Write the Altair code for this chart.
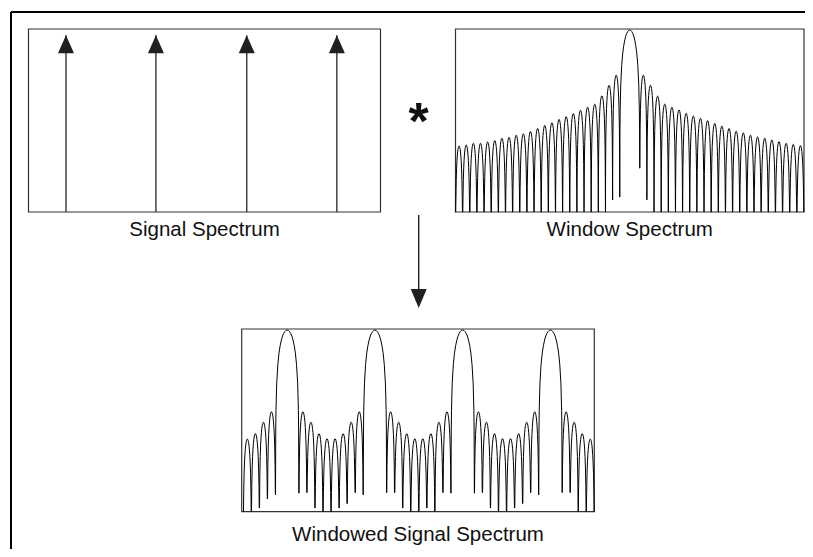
import altair as alt
import pandas as pd

# ---------------- data ----------------
FLOOR_DB = -54.0          # bottom of the dB panels
TOP_DB = 0.3              # top of the dB panels

# Signal spectrum: four pure tones (arbitrary frequency units 0..100)
SIGNAL_EXTENT = [0.0, 100.0]
SIGNAL_TONES = [10.65, 36.2, 62.0, 87.6]
SIGNAL_AMPS = [1.0, 1.0, 1.0, 1.0]
SIGNAL_TOP = 1.035

# Window spectrum (x in frequency bins, y in dB)
WINDOW_EXTENT = [-24.4, 24.4]
WINDOW_LOBE_WIDTHS = [1.0] * 23 + [2.8] + [1.0] * 23
WINDOW_PEAKS_DB = [
    -34.4, -34.1, -33.6, -33.6, -33.2, -32.8, -32.1, -31.8, -31.2, -30.8, -30.1, -29.2,
    -28.3, -27.5, -26.5, -25.7, -24.8, -23.8, -22.9, -22.0, -19.5, -16.4, -13.4,
    0.0,
    -13.4, -16.4, -19.6, -22.0, -22.9, -23.7, -24.7, -25.5, -26.2, -26.9, -27.7, -28.5,
    -29.2, -30.0, -30.5, -31.2, -31.7, -32.1, -32.6, -33.1, -33.6, -33.9, -34.3,
]
F = FLOOR_DB
WINDOW_NULLS_DB = (
    [F] * 22 + [-50.4, -49.6, -41.0, -50.4] + [F] * 22
)

# Windowed signal spectrum (x in bins, y in dB)
BOTTOM_EXTENT = [-0.2, 43.6]
BOTTOM_LOBE_WIDTHS = (
    [1.0, 1.0, 1.0, 1.0, 2.9]
    + [1.0, 1.0, 1.0, 1.0, 1.0, 1.0, 1.0, 1.0, 2.9]
    + [1.0, 1.0, 1.0, 1.0, 1.0, 1.0, 1.0, 1.0, 2.9]
    + [1.0, 1.0, 1.0, 1.0, 1.0, 1.0, 1.0, 1.0, 2.9]
    + [1.0, 1.0, 1.0, 1.0]
)
BOTTOM_PEAKS_DB = (
    [-32.4, -30.8, -27.4, -24.3, 0.0]
    + [-24.3, -27.4, -30.8, -32.3, -32.3, -30.8, -27.4, -24.3, 0.0]
    + [-24.3, -27.4, -30.8, -32.3, -32.3, -30.8, -27.4, -24.3, 0.0]
    + [-24.3, -27.4, -30.8, -32.3, -32.3, -30.8, -27.4, -24.3, 0.0]
    + [-24.3, -27.4, -30.8, -32.4]
)
BOTTOM_NULLS_DB = (
    [F, F, -52.9, -50.2, -49.0]
    + [-48.5, -48.3, -52.9, F, F, -52.9, -51.6, -48.3, -49.0]
    + [-48.3, -48.3, -52.9, F, F, -52.9, F, -48.3, -48.5]
    + [-48.5, -48.3, -52.9, F, F, -52.9, -51.6, -48.3, -49.0]
    + [-48.3, -48.3, F, F, F]
)

# shape of one lobe (fraction across lobe -> dB below its peak), read from the arches
PROFILE_U = [0.0, 0.01, 0.02, 0.05, 0.1, 0.15, 0.2, 0.25, 0.3, 0.35, 0.4, 0.45, 0.5,
             0.55, 0.6, 0.65, 0.7, 0.75, 0.8, 0.85, 0.9, 0.95, 0.98, 0.99, 1.0]
PROFILE_DROP_DB = [None, -30, -24, -16, -10.2, -6.8, -4.6, -3.0, -1.8, -1.0, -0.45, -0.1, 0.0,
                   -0.1, -0.45, -1.0, -1.8, -3.0, -4.6, -6.8, -10.2, -16, -24, -30, None]

LABELS = ["Signal Spectrum", "Window Spectrum", "Windowed Signal Spectrum"]

# ---------------- layout (plot-area pixels, origin at page (11, 12)) ----------------
W, H = 794, 537
SIG_X = [17.5, 369.5]
WIN_X = [444.5, 793.0]
BOT_X = [230.7, 583.3]
TOP_Y = [200, 17]
BOT_Y = [499.7, 317]

INK = "#111111"
BOX = "#333333"
FONT = "Liberation Sans"


def lobe_curve(start, widths, peaks, nulls):
    rows = []
    x0 = start
    idx = 0
    for i, (w, p) in enumerate(zip(widths, peaks)):
        dl, dr = nulls[i], nulls[i + 1]
        for j, (u, d) in enumerate(zip(PROFILE_U[:-1], PROFILE_DROP_DB[:-1])):
            if j == 0:
                lvl = dl
            else:
                lvl = max(p + d, dl if u < 0.5 else dr, FLOOR_DB)
            rows.append({"x": x0 + u * w, "y": lvl, "i": idx})
            idx += 1
        x0 += w
    rows.append({"x": x0, "y": nulls[-1], "i": idx})
    return pd.DataFrame(rows)


def sx(ext, rng):
    return alt.Scale(domain=ext, range=rng, nice=False, zero=False)


def box_layer(ext, xr, ymin, ymax, yr):
    df = pd.DataFrame({"x": [ext[0]], "x2": [ext[1]], "y": [ymin], "y2": [ymax]})
    return alt.Chart(df).mark_rect(fillOpacity=0, stroke=BOX, strokeWidth=1.2).encode(
        x=alt.X("x:Q", scale=sx(ext, xr), axis=None),
        x2="x2:Q",
        y=alt.Y("y:Q", scale=sx([ymin, ymax], yr), axis=None),
        y2="y2:Q",
    )


def label_layer(text, ext, xr, ymin, ymax, yr, dy):
    df = pd.DataFrame({"x": [(ext[0] + ext[1]) / 2], "y": [ymin], "t": [text]})
    return alt.Chart(df).mark_text(
        font=FONT, fontSize=20.5, color=INK, baseline="alphabetic", align="center", dy=dy
    ).encode(
        x=alt.X("x:Q", scale=sx(ext, xr), axis=None),
        y=alt.Y("y:Q", scale=sx([ymin, ymax], yr), axis=None),
        text="t:N",
    )


def curve_layer(df, ext, xr, yr):
    return alt.Chart(df).mark_line(color="black", strokeWidth=1.0).encode(
        x=alt.X("x:Q", scale=sx(ext, xr), axis=None),
        y=alt.Y("y:Q", scale=sx([FLOOR_DB, TOP_DB], yr), axis=None),
        order="i:Q",
    )


# ---- signal panel ----
sig_df = pd.DataFrame({"f": SIGNAL_TONES, "a": SIGNAL_AMPS, "z": [0.0] * len(SIGNAL_TONES)})
sig_shafts = alt.Chart(sig_df).mark_rule(color="#333333", strokeWidth=1.4).encode(
    x=alt.X("f:Q", scale=sx(SIGNAL_EXTENT, SIG_X), axis=None),
    y=alt.Y("z:Q", scale=sx([0, SIGNAL_TOP], TOP_Y), axis=None),
    y2="a:Q",
)
sig_heads = alt.Chart(sig_df).mark_point(
    shape="M0,-1.125L1,1.125L-1,1.125Z", size=256, filled=True, fill="#231f20",
    stroke=None, opacity=1, yOffset=9,
).encode(
    x=alt.X("f:Q", scale=sx(SIGNAL_EXTENT, SIG_X), axis=None),
    y=alt.Y("a:Q", scale=sx([0, SIGNAL_TOP], TOP_Y), axis=None),
)
sig_box = box_layer(SIGNAL_EXTENT, SIG_X, 0, SIGNAL_TOP, TOP_Y)
sig_label = label_layer(LABELS[0], SIGNAL_EXTENT, SIG_X, 0, SIGNAL_TOP, TOP_Y, 24)

# ---- window panel ----
win_df = lobe_curve(WINDOW_EXTENT[0], WINDOW_LOBE_WIDTHS, WINDOW_PEAKS_DB, WINDOW_NULLS_DB)
win_curve = curve_layer(win_df, WINDOW_EXTENT, WIN_X, TOP_Y)
win_box = box_layer(WINDOW_EXTENT, WIN_X, FLOOR_DB, TOP_DB, TOP_Y)
win_label = label_layer(LABELS[1], WINDOW_EXTENT, WIN_X, FLOOR_DB, TOP_DB, TOP_Y, 24)

# ---- windowed signal panel ----
bot_df = lobe_curve(0.0, BOTTOM_LOBE_WIDTHS, BOTTOM_PEAKS_DB, BOTTOM_NULLS_DB)
bot_curve = curve_layer(bot_df, BOTTOM_EXTENT, BOT_X, BOT_Y)
bot_box = box_layer(BOTTOM_EXTENT, BOT_X, FLOOR_DB, TOP_DB, BOT_Y)
bot_label = label_layer(LABELS[2], BOTTOM_EXTENT, BOT_X, FLOOR_DB, TOP_DB, BOT_Y, 29)

# ---- outer frame and connectors (layout units = plot pixels) ----
LAY_X = alt.Scale(domain=[0, W], range=[0, W], nice=False, zero=False)
LAY_Y = alt.Scale(domain=[0, H], range=[0, H], nice=False, zero=False)

frame_df = pd.DataFrame({"x": [0, 0], "x2": [W + 20, 0], "y": [0, 0], "y2": [0, H + 20]})
frame = alt.Chart(frame_df).mark_rule(color="black", strokeWidth=2).encode(
    x=alt.X("x:Q", scale=LAY_X, axis=None),
    x2="x2:Q",
    y=alt.Y("y:Q", scale=LAY_Y, axis=None),
    y2="y2:Q",
)

star_df = pd.DataFrame({"x": [407.5], "y": [127.3], "t": ["*"]})
star = alt.Chart(star_df).mark_text(
    font=FONT, fontSize=52, fontWeight="bold", color=INK, baseline="alphabetic", align="center"
).encode(
    x=alt.X("x:Q", scale=LAY_X, axis=None),
    y=alt.Y("y:Q", scale=LAY_Y, axis=None),
    text="t:N",
)
arrow_df = pd.DataFrame({"x": [407.7], "y": [203.0], "y2": [280.0], "yh": [286.5]})
arrow_shaft = alt.Chart(arrow_df).mark_rule(color="#222222", strokeWidth=1.4).encode(
    x=alt.X("x:Q", scale=LAY_X, axis=None),
    y=alt.Y("y:Q", scale=LAY_Y, axis=None),
    y2="y2:Q",
)
arrow_head = alt.Chart(arrow_df).mark_point(
    shape="M-1,-1.1875L1,-1.1875L0,1.1875Z", size=256, filled=True, fill="#231f20",
    stroke=None, opacity=1,
).encode(
    x=alt.X("x:Q", scale=LAY_X, axis=None),
    y=alt.Y("yh:Q", scale=LAY_Y, axis=None),
)

chart = alt.layer(
    frame,
    sig_box, sig_shafts, sig_heads, sig_label,
    win_box, win_curve, win_label,
    bot_box, bot_curve, bot_label,
    star, arrow_shaft, arrow_head,
).resolve_scale(
    x="independent", y="independent"
).properties(
    width=W, height=H,
    padding={"left": 3, "top": 4, "right": 0, "bottom": 0},
    autosize=alt.AutoSizeParams(type="none"),
    background="white",
).configure_view(
    stroke=None, clip=False
)

chart.save("out.html", embed_options={"renderer": "svg", "actions": False})
